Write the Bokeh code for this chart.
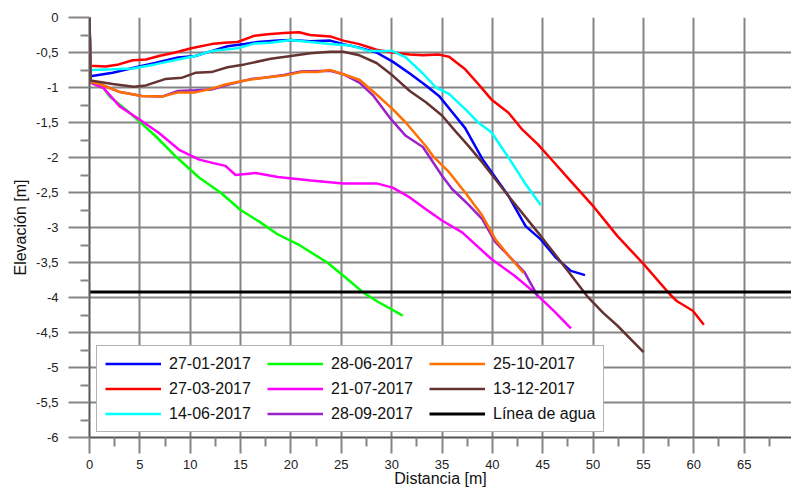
from bokeh.plotting import figure
from bokeh.models import (FixedTicker, Legend, LegendItem, Range1d,
                          CustomJSTickFormatter, BoxAnnotation)
from bokeh.embed import file_html
from bokeh.resources import INLINE

# ---- data ----
x_2701 = [0, 0.1, 2.3, 4.6, 6.5, 8.8, 10.5, 12.1, 13.7, 15.4, 16.7, 18.7, 20, 21.9, 23.9, 25.2, 26.8, 28.5, 30.1, 31.8, 33.4, 34.7, 36, 37.3, 39, 41.6, 43.3, 44.8, 46.3, 47.8, 49.2]
y_2701 = [0, -0.84, -0.79, -0.71, -0.65, -0.57, -0.55, -0.48, -0.41, -0.38, -0.35, -0.33, -0.32, -0.34, -0.33, -0.38, -0.43, -0.5, -0.63, -0.8, -0.97, -1.12, -1.35, -1.58, -2.02, -2.55, -2.98, -3.17, -3.43, -3.62, -3.68]

x_2703 = [0, 0.1, 1.6, 2.9, 4.3, 5.6, 6.9, 8.5, 10.1, 12.1, 13.4, 14.7, 16.4, 17.7, 19.3, 20.8, 21.9, 23.9, 25.2, 26.8, 28.5, 30.1, 31.8, 33.1, 34.7, 35.7, 37.3, 38.6, 39.9, 41.6, 42.9, 44.5, 46, 47.6, 50.1, 52.4, 55, 57.6, 58.3, 59.9, 61]
y_2703 = [0, -0.69, -0.70, -0.67, -0.61, -0.60, -0.55, -0.5, -0.44, -0.38, -0.36, -0.35, -0.26, -0.24, -0.22, -0.21, -0.25, -0.27, -0.33, -0.38, -0.46, -0.5, -0.53, -0.54, -0.53, -0.56, -0.74, -0.95, -1.17, -1.36, -1.59, -1.81, -2.05, -2.31, -2.71, -3.12, -3.52, -3.95, -4.05, -4.19, -4.39]

x_1406 = [0, 0.1, 2.3, 4.3, 6.5, 8.8, 10.5, 12.1, 14.7, 16.4, 18, 20, 21.9, 23.9, 25.9, 27.8, 30.1, 31.4, 33.1, 34.4, 35.7, 37.3, 38.6, 39.9, 41.6, 43.2, 44.8]
y_1406 = [0, -0.75, -0.74, -0.73, -0.67, -0.6, -0.55, -0.48, -0.44, -0.37, -0.36, -0.32, -0.35, -0.38, -0.4, -0.48, -0.48, -0.57, -0.8, -1.0, -1.09, -1.31, -1.5, -1.64, -2.0, -2.36, -2.68]

x_2806 = [0, 0.1, 1.4, 2, 3.65, 5, 6.6, 8.6, 10.9, 13, 15, 17, 18.7, 20.7, 23.6, 25.2, 27.2, 28.5, 31.1]
y_2806 = [0, -0.93, -1.01, -1.13, -1.32, -1.49, -1.7, -1.99, -2.29, -2.5, -2.75, -2.93, -3.1, -3.24, -3.5, -3.69, -3.93, -4.05, -4.26]

x_2107 = [0, 0.1, 1.4, 3, 5, 6.9, 8.9, 10.9, 12.3, 13.5, 14.5, 16.5, 18.7, 22, 25.2, 28.5, 30.1, 31.8, 33.4, 35, 37, 39.9, 42.2, 44.2, 46.1, 47.8]
y_2107 = [0, -0.93, -1.01, -1.27, -1.46, -1.65, -1.89, -2.03, -2.08, -2.12, -2.25, -2.22, -2.28, -2.33, -2.37, -2.37, -2.43, -2.57, -2.74, -2.9, -3.07, -3.45, -3.69, -3.93, -4.19, -4.44]

x_2809 = [0, 0.1, 1.0, 2.9, 5.2, 7.2, 8.8, 10.5, 12.1, 14, 16, 17.3, 19.3, 21, 23.9, 25.2, 26.8, 28.2, 29.8, 31.4, 33.1, 35, 36, 37.6, 39, 40.3, 41.6, 43.2, 44.5]
y_2809 = [0, -0.92, -0.95, -1.06, -1.12, -1.13, -1.05, -1.04, -1.03, -0.95, -0.88, -0.86, -0.82, -0.77, -0.76, -0.81, -0.93, -1.12, -1.43, -1.69, -1.85, -2.26, -2.45, -2.67, -2.88, -3.21, -3.4, -3.64, -3.98]

x_2510 = [0, 0.1, 1.0, 2.9, 5.2, 7.2, 8.8, 10.5, 12.1, 13.4, 15.4, 17.3, 19.3, 21, 22.6, 23.9, 25.2, 26.8, 28.5, 30.1, 31.4, 33.4, 34.1, 35.7, 37.3, 39, 40.3, 41.6, 43.1]
y_2510 = [0, -0.92, -0.95, -1.06, -1.12, -1.13, -1.07, -1.07, -1.02, -0.96, -0.9, -0.86, -0.83, -0.78, -0.78, -0.75, -0.81, -0.89, -1.1, -1.31, -1.5, -1.84, -1.98, -2.21, -2.5, -2.83, -3.17, -3.4, -3.65]

x_1312 = [0, 0.1, 2.3, 4.4, 5.6, 7.5, 9.2, 10.5, 12.1, 13.7, 15.4, 18, 20, 21.9, 23.9, 25.2, 26.8, 28.5, 30.1, 31.8, 33.4, 35, 36.3, 37.6, 39, 41.6, 44.8, 47.5, 49.4, 51, 52.4, 55]
y_1312 = [0, -0.9, -0.95, -0.99, -0.97, -0.88, -0.86, -0.79, -0.78, -0.71, -0.67, -0.59, -0.55, -0.51, -0.49, -0.49, -0.54, -0.65, -0.83, -1.05, -1.21, -1.4, -1.62, -1.83, -2.07, -2.55, -3.12, -3.62, -3.98, -4.22, -4.4, -4.78]

water_x = [0, 70]
water_y = [-3.92, -3.92]

labels = ["27-01-2017", "27-03-2017", "14-06-2017", "28-06-2017", "21-07-2017",
          "28-09-2017", "25-10-2017", "13-12-2017", "Línea de agua"]
x_ticks = list(range(0, 71, 5))
x_minor = [v + 2.5 for v in range(0, 70, 5)]
y_ticks = [-6, -5.5, -5, -4.5, -4, -3.5, -3, -2.5, -2, -1.5, -1, -0.5, 0]
y_minor = [-5.75, -5.25, -4.75, -4.25, -3.75, -3.25, -2.75, -2.25, -1.75, -1.25, -0.75, -0.25]

FONT = "Liberation Sans"
GRID = "#858585"

p = figure(width=791, height=491, output_backend="svg", toolbar_location=None,
           x_range=Range1d(0, 69.7), y_range=Range1d(-6, 0),
           min_border_left=89, min_border_right=0, min_border_top=17, min_border_bottom=54)
p.styles = {"margin-bottom": "-8px"}
p.outline_line_color = None
p.background_fill_color = "white"
p.border_fill_color = "white"

series = [
    (x_2701, y_2701, "#0000ff"),
    (x_2703, y_2703, "#ff0000"),
    (x_1406, y_1406, "#00ffff"),
    (x_2806, y_2806, "#00ff00"),
    (x_2107, y_2107, "#ff00ff"),
    (x_2809, y_2809, "#9a22cc"),
    (x_2510, y_2510, "#ff7000"),
    (x_1312, y_1312, "#663333"),
]
items = []
for (xs, ys, col), lab in zip(series, labels[:8]):
    r = p.line(xs, ys, line_color=col, line_width=2.5)
    items.append(LegendItem(label=lab, renderers=[r]))
rw = p.line(water_x, water_y, line_color="black", line_width=3)
items.append(LegendItem(label=labels[8], renderers=[rw]))

xt = FixedTicker(ticks=x_ticks, minor_ticks=x_minor)
yt = FixedTicker(ticks=y_ticks, minor_ticks=y_minor)
p.xaxis.ticker = xt
p.yaxis.ticker = yt
p.xgrid.ticker = xt
p.ygrid.ticker = yt
p.grid.grid_line_color = GRID
p.grid.grid_line_width = 2

p.yaxis.formatter = CustomJSTickFormatter(code="return tick.toString().replace('.', ',');")

for ax in (p.xaxis[0], p.yaxis[0]):
    ax.axis_line_color = "#555555"
    ax.axis_line_width = 2
    ax.major_tick_line_color = GRID
    ax.minor_tick_line_color = GRID
    ax.major_tick_line_width = 2
    ax.minor_tick_line_width = 2
    ax.major_tick_in = 0
    ax.minor_tick_in = 0
    ax.minor_tick_out = 9
    ax.major_label_text_font = FONT
    ax.major_label_text_font_size = "13px"
    ax.major_label_text_color = "#222222"
    ax.axis_label_text_font = FONT
    ax.axis_label_text_font_size = "16px"
    ax.axis_label_text_font_style = "normal"
    ax.axis_label_text_color = "#111111"

p.xaxis.major_tick_out = 16
p.xaxis.major_label_standoff = 6
p.xaxis.axis_label_standoff = -2
p.xaxis.axis_label = "Distancia [m]"

p.yaxis.major_tick_out = 21
p.yaxis.major_label_standoff = 10
p.yaxis.axis_label_standoff = 4
p.yaxis.axis_label = "Elevación [m]"

legend = Legend(items=items, location=(7, 5), orientation="vertical", nrows=3,
                glyph_width=56, glyph_height=19, label_height=19, label_standoff=8,
                label_width=92, spacing=6, padding=8, margin=0,
                label_text_font=FONT, label_text_font_size="16px", label_text_color="#111111",
                border_line_color="#666666", border_line_width=1.5,
                background_fill_color="white", background_fill_alpha=1)
p.add_layout(legend)

# outer black border of the original image (left and top edges)
p.add_layout(BoxAnnotation(left=10, right=13, top=7, bottom=491,
                           left_units="canvas", right_units="canvas",
                           top_units="canvas", bottom_units="canvas",
                           fill_color="black", fill_alpha=1, line_alpha=0, level="overlay"))
p.add_layout(BoxAnnotation(left=10, right=791, top=7, bottom=10,
                           left_units="canvas", right_units="canvas",
                           top_units="canvas", bottom_units="canvas",
                           fill_color="black", fill_alpha=1, line_alpha=0, level="overlay"))

open("out.html", "w").write(file_html(p, INLINE))
